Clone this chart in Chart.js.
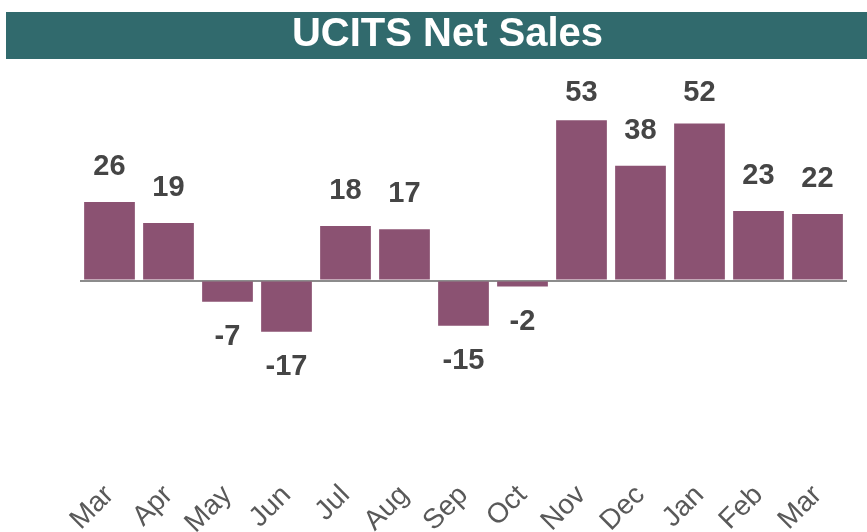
<!DOCTYPE html>
<html>
<head>
<meta charset="utf-8">
<style>
  html, body { margin: 0; padding: 0; background: #ffffff; }
  #wrap { width: 867px; height: 532px; position: relative; }
</style>
<script src="https://cdn.jsdelivr.net/npm/chart.js@4.4.1/dist/chart.umd.min.js"></script>
</head>
<body>
<div id="wrap"><canvas id="c" width="867" height="532"></canvas></div>
<script>
const titleText = "UCITS Net Sales";
const categories = ["Mar", "Apr", "May", "Jun", "Jul", "Aug", "Sep", "Oct", "Nov", "Dec", "Jan", "Feb", "Mar"];
const netSales = [26, 19, -7, -17, 18, 17, -15, -2, 53, 38, 52, 23, 22];
const yMin = -62;
const yMax = 70;

const bandPlugin = {
  id: 'band',
  beforeDraw(chart) {
    const ctx = chart.ctx;
    ctx.save();
    ctx.fillStyle = '#316A6D';
    ctx.fillRect(6, 12, 861, 47);
    ctx.restore();
  }
};

const labelPlugin = {
  id: 'valueLabels',
  afterDatasetsDraw(chart) {
    const ctx = chart.ctx;
    const meta = chart.getDatasetMeta(0);
    const ds = chart.data.datasets[0].data;
    ctx.save();
    ctx.font = 'bold 29px "Liberation Sans", Arial, sans-serif';
    ctx.fillStyle = '#454545';
    ctx.textAlign = 'center';
    ctx.textBaseline = 'middle';
    meta.data.forEach((el, i) => {
      const v = ds[i];
      let y;
      if (v >= 0) {
        y = Math.max(el.y - 35, chart.chartArea.top + 24);
      } else {
        y = el.y + 35;
      }
      ctx.fillText(String(v), el.x, y);
    });
    ctx.restore();
  }
};

new Chart(document.getElementById('c'), {
  type: 'bar',
  data: {
    labels: categories,
    datasets: [{
      data: netSales,
      backgroundColor: '#8B5272',
      borderWidth: 0,
      categoryPercentage: 1.0,
      barPercentage: 0.86
    }]
  },
  options: {
    responsive: false,
    animation: false,
    layout: { padding: { left: 48, right: 20, top: 0, bottom: -11 } },
    plugins: {
      legend: { display: false },
      tooltip: { enabled: false },
      title: {
        display: true,
        text: titleText,
        color: '#ffffff',
        font: { family: '"Liberation Sans", Arial, sans-serif', size: 40, weight: 'bold' },
        padding: { top: 11, bottom: 10 }
      }
    },
    scales: {
      x: {
        grid: { display: false },
        border: { display: false },
        ticks: {
          minRotation: 45,
          maxRotation: 45,
          autoSkip: false,
          color: '#595959',
          padding: 3,
          font: { family: '"Liberation Sans", Arial, sans-serif', size: 28 }
        }
      },
      y: {
        min: yMin,
        max: yMax,
        border: { display: false },
        ticks: { display: false },
        grid: {
          drawTicks: false,
          lineWidth: 2,
          color: (ctx) => (ctx.tick && ctx.tick.value === 0) ? '#8C8C8C' : 'rgba(0,0,0,0)'
        },
        afterBuildTicks: (axis) => { axis.ticks = [{ value: 0 }]; },
        afterFit: (axis) => { axis.width = 32; }
      }
    }
  },
  plugins: [bandPlugin, labelPlugin]
});
</script>
</body>
</html>
